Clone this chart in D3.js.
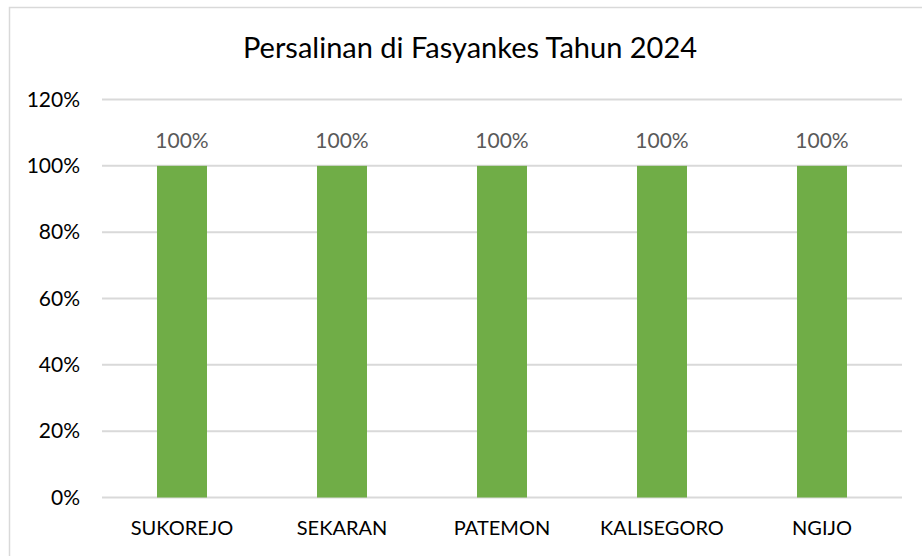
<!DOCTYPE html>
<html>
<head>
<meta charset="utf-8">
<script src="https://cdn.jsdelivr.net/npm/d3@7"></script>
<style>
  body { margin: 0; background: #fff; }
  svg text { font-family: Lato, "Open Sans", sans-serif; }
</style>
</head>
<body>
<svg width="922" height="556"></svg>
<script>
// chart data
let categories = ["SUKOREJO", "SEKARAN", "PATEMON", "KALISEGORO", "NGIJO"];
let values = [1.0, 1.0, 1.0, 1.0, 1.0];
let yTicks = [0, 0.2, 0.4, 0.6, 0.8, 1.0, 1.2];
let title = "Persalinan di Fasyankes Tahun 2024";

let svg = d3.select("svg"),
    width = +svg.attr("width"),
    height = +svg.attr("height");

let margin = {top: 99.5, right: 20, bottom: 58.5, left: 102};

// outer chart border
svg.append("rect")
    .attr("x", 9.5).attr("y", 7.5)
    .attr("width", width + 10).attr("height", height + 10)
    .attr("fill", "none")
    .attr("stroke", "#d9d9d9")
    .attr("stroke-width", 1.5);

let x = d3.scaleBand()
    .domain(categories)
    .range([margin.left, width - margin.right]);

let y = d3.scaleLinear()
    .domain([0, 1.2])
    .range([height - margin.bottom, margin.top]);

//gridlines
svg.append("g")
    .attr("class", "grid")
    .selectAll("line")
    .data(yTicks).enter().append("line")
        .attr("x1", margin.left)
        .attr("x2", width - margin.right)
        .attr("y1", d => y(d))
        .attr("y2", d => y(d))
        .attr("stroke", "#d9d9d9")
        .attr("stroke-width", 2);

// y axis labels
let yAxis = d3.axisLeft(y)
    .tickValues(yTicks)
    .tickFormat(d3.format(".0%"))
    .tickSize(0)
    .tickPadding(22);

svg.append("g")
    .attr("transform", `translate(${margin.left},0)`)
    .call(yAxis)
    .call(g => g.select(".domain").remove())
    .selectAll("text")
        .attr("font-size", 21)
        .attr("fill", "#000")
        .style("font-family", "Lato, 'Open Sans', sans-serif");

// x axis labels
let xAxis = d3.axisBottom(x)
    .tickSize(0)
    .tickPadding(23);

svg.append("g")
    .attr("transform", `translate(0,${y(0)})`)
    .call(xAxis)
    .call(g => g.select(".domain").remove())
    .selectAll("text")
        .attr("font-size", 20)
        .attr("fill", "#000")
        .style("font-family", "Lato, 'Open Sans', sans-serif");

let barW = x.bandwidth() * 0.3125;

svg.append("g")
    .attr("class", "bars")
    .selectAll("rect")
    .data(values).enter().append("rect")
        .attr("x", (d, i) => x(categories[i]) + x.bandwidth() / 2 - barW / 2)
        .attr("y", d => y(d))
        .attr("width", barW)
        .attr("height", d => y(0) - y(d))
        .attr("fill", "#70ad47");

// data labels
svg.append("g")
    .attr("class", "labels")
    .selectAll("text")
    .data(values).enter().append("text")
        .attr("x", (d, i) => x(categories[i]) + x.bandwidth() / 2)
        .attr("y", d => y(d) - 18)
        .attr("text-anchor", "middle")
        .attr("font-size", 21)
        .attr("fill", "#595959")
        .text(d => d3.format(".0%")(d));

svg.append("text")
    .attr("x", 470)
    .attr("y", 58)
    .attr("text-anchor", "middle")
    .attr("font-size", 29)
    .attr("fill", "#000")
    .text(title);
</script>
</body>
</html>
